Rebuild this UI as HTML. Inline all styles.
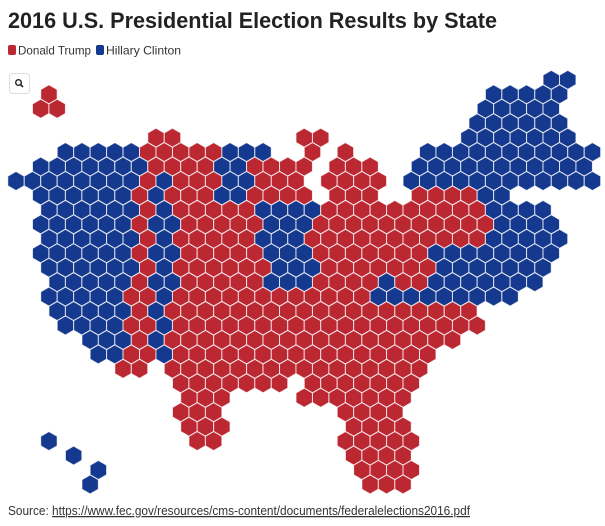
<!DOCTYPE html>
<html><head><meta charset="utf-8"><style>
html,body{margin:0;padding:0;background:#fff;}
body{width:605px;height:526px;overflow:hidden;position:relative;font-family:"Liberation Sans",sans-serif;}
svg{position:absolute;left:0;top:0;}
</style></head><body>
<svg id="s" width="605" height="526" viewBox="0 0 605 526" xmlns="http://www.w3.org/2000/svg">
<text x="8" y="28" font-family="Liberation Sans, sans-serif" font-weight="bold" font-size="22" fill="#222" textLength="489" lengthAdjust="spacingAndGlyphs">2016 U.S. Presidential Election Results by State</text>
<rect x="8" y="45" width="8" height="10" rx="2" fill="#bb2832"/>
<text x="18" y="54.5" font-size="12" fill="#333" textLength="73" lengthAdjust="spacingAndGlyphs">Donald Trump</text>
<rect x="96" y="45" width="8" height="10" rx="2" fill="#15398e"/>
<text x="106" y="54.5" font-size="12" fill="#333" textLength="75" lengthAdjust="spacingAndGlyphs">Hillary Clinton</text>
<rect x="9.5" y="73.5" width="20" height="20" rx="3" fill="#fff" stroke="#ddd"/>
<circle cx="18.5" cy="82.5" r="2.8" fill="none" stroke="#222" stroke-width="1.4"/>
<line x1="20.5" y1="84.5" x2="23" y2="87" stroke="#222" stroke-width="1.6"/>
<g id="hex"></g>
<text x="8" y="515" font-size="12.5" fill="#333" textLength="462" lengthAdjust="spacingAndGlyphs">Source: <tspan text-decoration="underline">https://www.fec.gov/resources/cms-content/documents/federalelections2016.pdf</tspan></text>
</svg>
<script>
var rows=[
"B33-34",
"R2 B29-33",
"R2-3 B29-33",
"B28-33",
"R9-10 R18-19 B28-34",
"B3-7 R8-12 B13-15 R18 R20 B25-35",
"B2-8 R9-12 B13-14 R15-18 R20-22 B25-35",
"B0-7 R8 B9 R10-12 B13-14 R15-17 R19-22 B24-35",
"B2-7 R8 B9 R10-12 B13-14 R15-18 R20-22 R25-28 B29-30",
"B2-7 R8 B9 R10-14 B15-18 R19-28 B29-32",
"B2-7 R8 B9-10 R11-15 B16-18 R19-29 B30-33",
"B2-7 R8 B9 R10-14 B15-17 R18-28 B29-33",
"B2-7 R8 B9-10 R11-15 B16-18 R19-25 B26-33",
"B2-7 R8 B9 R10-15 B16-18 R19-25 B26-32",
"B3-7 R8 B9-10 R11-15 B16-18 R19-22 B23 R24-25 B26-32",
"B2-6 R7-8 B9 R10-21 B22-30",
"B3-7 R8 B9 R10-28",
"B3-6 R7-8 B9 R10-28",
"B5-7 R8 B9 R10-27",
"B5-6 R7-8 B9 R10-25",
"R7-8 R10-25",
"R10-16 R18-24",
"R11-13 R18-24",
"R10-12 R20-23",
"R11-13 R21-24",
"B2 R11-12 R20-24",
"B4 R21-24",
"B5 R21-24",
"B5 R22-24"];
var g=document.getElementById("hex"),S=16.47,R=9.5,out="";
function hex(cx,cy,c){var p=[];for(var i=0;i<6;i++){var a=Math.PI/180*(60*i-90);p.push((cx+R*Math.cos(a)).toFixed(2)+","+(cy+R*Math.sin(a)).toFixed(2));}
return '<polygon points="'+p.join(" ")+'" fill="'+c+'" stroke="#fff" stroke-opacity="0.75" stroke-width="1"/>';}
for(var r=0;r<rows.length;r++){var y=79.85+14.45*r;var parts=rows[r].split(" ");
for(var j=0;j<parts.length;j++){var t=parts[j];var col=t[0]=="R"?"#bb2832":"#15398e";var rg=t.slice(1).split("-");var a=+rg[0],b=rg.length>1?+rg[1]:a;
for(var k=a;k<=b;k++){var x=(r%2==1)?16+S*k:16+S*(k-0.5);out+=hex(x,y,col);}}}
g.innerHTML=out;
</script>
</body></html>
